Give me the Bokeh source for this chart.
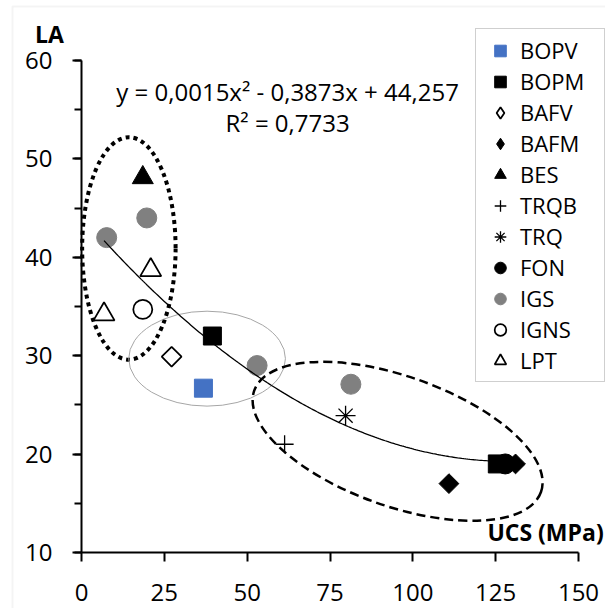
import math
import numpy as np
from bokeh.plotting import figure
from bokeh.models import (Legend, LegendItem, SingleIntervalTicker, FixedTicker, Label,
                          BoxAnnotation, Range1d)
from bokeh.embed import file_html
from bokeh.resources import INLINE

# ---------------- data ----------------
BOPV_x = [36.8];  BOPV_y = [26.7]
BOPM_x = [39.5, 125.5];  BOPM_y = [32.0, 19.0]
BAFV_x = [27.2];  BAFV_y = [29.9]
BAFM_x = [110.9, 131.0];  BAFM_y = [17.0, 19.0]
BES_x = [18.5];  BES_y = [48.1]
TRQB_x = [61.3];  TRQB_y = [21.0]
TRQ_x = [79.7];  TRQ_y = [23.9]
FON_x = [127.9];  FON_y = [19.0]
IGS_x = [7.6, 19.7, 53.0, 81.3];  IGS_y = [42.0, 44.0, 29.0, 27.1]
IGNS_x = [18.5];  IGNS_y = [34.7]
LPT_x = [6.8, 20.9];  LPT_y = [34.2, 38.7]

# trendline coefficients (y = a x^2 + b x + c)
TREND_A = 0.0015
TREND_B = -0.3873
TREND_C = 44.257
TREND_XMIN = 6.8
TREND_XMAX = 131.0

x_ticks = [0, 25, 50, 75, 100, 125, 150]
eq_text = "y = 0,0015x\u00b2 - 0,3873x + 44,257"
r2_text = "R\u00b2 = 0,7733"

FONT = "Open Sans"
FS = "24px"
LEG_FS = "22px"
TITLE_FS = "23px"

W, H = 605, 608
X0PX, X150PX = 81.0, 578.0     # pixel positions of x=0 and x=150
Y10PX, Y60PX = 552.0, 60.0     # pixel positions of y=10 and y=60
sx = (X150PX - X0PX) / 150.0
sy = (Y10PX - Y60PX) / 50.0
x_start = 0 - X0PX / sx
x_end = 150 + (W - X150PX) / sx
y_end = 60 + Y60PX / sy
y_start = 10 - (H - Y10PX) / sy

p = figure(width=W, height=H, x_range=Range1d(x_start, x_end), y_range=Range1d(y_start, y_end),
           output_backend="svg", toolbar_location=None, min_border=0)
p.outline_line_color = None
p.grid.grid_line_color = None
p.background_fill_color = "white"
p.border_fill_color = "white"

p.xaxis.ticker = FixedTicker(ticks=x_ticks)
p.yaxis.ticker = SingleIntervalTicker(interval=10, num_minor_ticks=2)
p.xaxis.fixed_location = 10
p.yaxis.fixed_location = 0
p.xaxis.bounds = (0, 150)
p.yaxis.bounds = (10, 60)
for ax in (p.xaxis[0], p.yaxis[0]):
    ax.axis_line_color = "black"
    ax.axis_line_width = 2
    ax.major_tick_line_color = "black"
    ax.major_tick_line_width = 2
    ax.major_tick_out = 9
    ax.major_tick_in = 0
    ax.minor_tick_line_color = "black"
    ax.minor_tick_line_width = 2
    ax.minor_tick_out = 7
    ax.minor_tick_in = 0
    ax.major_label_text_font = FONT
    ax.major_label_text_font_size = FS
    ax.major_label_text_color = "black"
p.yaxis.major_label_standoff = 20
p.xaxis.major_label_standoff = 22

# chart-area border (light gray)
p.add_layout(BoxAnnotation(left=x_start + 12 / sx, top=y_end - 6 / sy,
                           right=x_end + 20, bottom=y_start - 20,
                           fill_color=None, line_color="#d9d9d9", line_width=2))

# ellipses (group outlines)
p.ellipse(x=[14.3], y=[40.9], width=[28.2], height=[22.6], fill_color=None,
          line_color="black", line_width=4, line_dash="4 4")
p.ellipse(x=[37.9], y=[29.7], width=[47.3], height=[9.65], fill_color=None,
          line_color="#a6a6a6", line_width=1)
p.ellipse(x=[95.4], y=[21.3], width=[91.8], height=[13.2], angle=[-0.34], fill_color=None,
          line_color="black", line_width=2.5, line_dash="9 5")

items = []
def add(label, xs, ys, marker, size, fill, line, lw=1.0, angle=0.0, legend_marker=None):
    r = p.scatter(xs, ys, marker=marker, size=size, fill_color=fill, line_color=line,
                  line_width=lw, angle=angle)
    if legend_marker is None:
        items.append(LegendItem(label=label, renderers=[r]))
    else:
        # legend swatch only (legend does not rotate markers): hidden proxy renderer
        proxy = p.scatter(xs, ys, marker=legend_marker, size=size, fill_color=fill,
                          line_color=line, line_width=lw, visible=False)
        items.append(LegendItem(label=label, renderers=[proxy]))
    return r

add("BOPV", BOPV_x, BOPV_y, "square", 18, "#4472c4", "#4472c4")
add("BOPM", BOPM_x, BOPM_y, "square", 18, "black", "black")
add("BAFV", BAFV_x, BAFV_y, "square", 14, "white", "black", 1.75, math.pi / 4, "diamond")
add("BAFM", BAFM_x, BAFM_y, "square", 14, "black", "black", 1.0, math.pi / 4, "diamond")
add("BES", BES_x, BES_y, "triangle", 21, "black", "black")
add("TRQB", TRQB_x, TRQB_y, "cross", 18, None, "black", 1.3)
add("TRQ", TRQ_x, TRQ_y, "asterisk", 20, None, "black", 1.3)
add("FON", FON_x, FON_y, "circle", 20, "black", "black")
add("IGS", IGS_x, IGS_y, "circle", 20, "#808080", "#808080")
add("IGNS", IGNS_x, IGNS_y, "circle", 19, "white", "black", 1.75)
add("LPT", LPT_x, LPT_y, "triangle", 21, "white", "black", 1.75)

# trendline
tx = np.linspace(TREND_XMIN, TREND_XMAX, 200)
ty = TREND_A * tx ** 2 + TREND_B * tx + TREND_C
p.line(tx, ty, line_color="black", line_width=1.3)

# texts
p.add_layout(Label(x=62.2, y=56.9, text=eq_text, text_align="center", text_baseline="middle",
                   text_font=FONT, text_font_size=FS, text_color="black"))
p.add_layout(Label(x=62.2, y=53.7, text=r2_text, text_align="center", text_baseline="middle",
                   text_font=FONT, text_font_size=FS, text_color="black"))
p.add_layout(Label(x=-9.7, y=62.7, text="LA", text_align="center", text_baseline="middle",
                   text_font=FONT, text_font_size=TITLE_FS, text_font_style="bold",
                   text_color="black"))
p.add_layout(Label(x=157.6, y=12.1, text="UCS (MPa)", text_align="right", text_baseline="middle",
                   text_font=FONT, text_font_size=TITLE_FS, text_font_style="bold",
                   text_color="black"))

legend = Legend(items=items, location=(475, 226), orientation="vertical",
                padding=6, spacing=1, margin=0,
                glyph_width=36, glyph_height=29, label_height=29, label_width=78,
                label_standoff=2,
                label_text_font=FONT, label_text_font_size=LEG_FS, label_text_color="black",
                border_line_color="#a0a0a0", border_line_width=1,
                background_fill_color="white", background_fill_alpha=1.0,
                inactive_fill_alpha=0.0)
p.add_layout(legend, "center")

open("out.html", "w").write(file_html(p, INLINE))
